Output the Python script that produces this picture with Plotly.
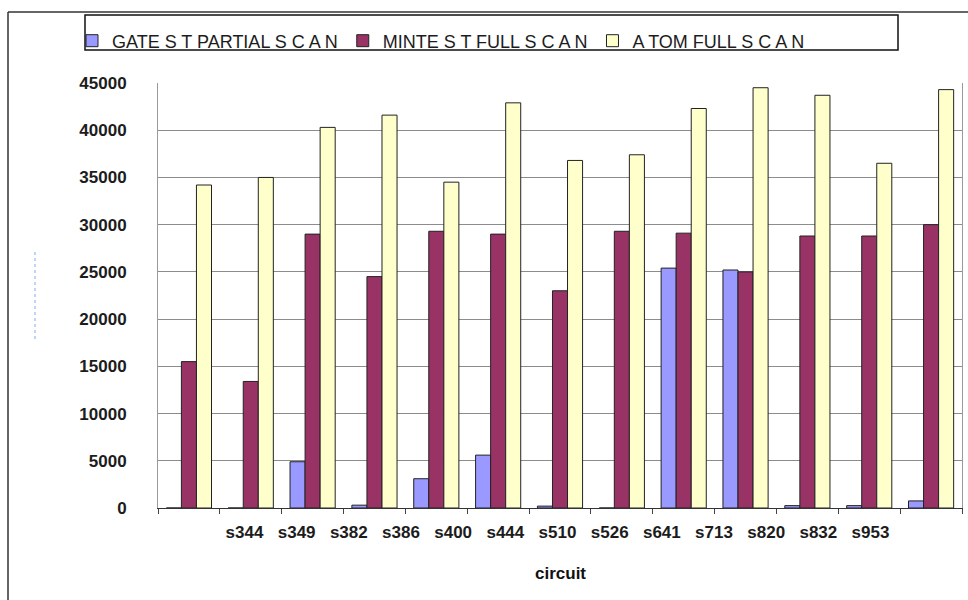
import plotly.graph_objects as go

# Benchmark circuits and test-set sizes for the three tools
circuits = ["s344", "s349", "s382", "s386", "s400", "s444", "s510",
            "s526", "s641", "s713", "s820", "s832", "s953"]
gatest_partial = [0, 0, 4900, 300, 3100, 5600, 200, 0, 25400, 25200, 250, 250, 750]
mintest_full = [15500, 13400, 29000, 24500, 29300, 29000, 23000, 29300, 29100, 25000, 28800, 28800, 30000]
atom_full = [34200, 35000, 40300, 41600, 34500, 42900, 36800, 37400, 42300, 44500, 43700, 36500, 44300]

series_names = ["GATE S T PARTIAL S C A N", "MINTE S T FULL S C A N", "A TOM FULL S C A N"]
series_colors = ["#9999FF", "#993366", "#FFFFCC"]
y_ticks = list(range(0, 45001, 5000))

W, H = 968, 600
L, R, T, B = 158, 6, 83, 92
PW, PH = W - L - R, H - T - B


def px_x(x):
    return (x - L) / PW


def px_y(y):
    return (H - B - y) / PH


FONT = "Liberation Sans, Arial, sans-serif"
TXT = "#1c1c1c"

fig = go.Figure()
for name, vals, col in zip(series_names, [gatest_partial, mintest_full, atom_full], series_colors):
    fig.add_trace(go.Bar(
        x=circuits, y=vals, name=name,
        marker=dict(color=col, line=dict(color="#222222", width=1)),
    ))

# label axis for the circuit names (carries no visible marks)
fig.add_trace(go.Scatter(
    x=list(range(len(circuits))), y=[None] * len(circuits),
    xaxis="x2", yaxis="y2", mode="markers", showlegend=False, hoverinfo="skip",
))

fig.update_layout(
    width=W, height=H,
    margin=dict(l=L, r=R, t=T, b=B),
    paper_bgcolor="white", plot_bgcolor="rgba(0,0,0,0)",
    barmode="group", bargap=0.27, bargroupgap=0,
    font=dict(family=FONT, color=TXT),
    showlegend=True,
    legend=dict(
        orientation="h", x=px_x(72), y=px_y(41), xanchor="left", yanchor="middle",
        bgcolor="rgba(0,0,0,0)", borderwidth=0,
        font=dict(family=FONT, size=18, color=TXT),
        itemwidth=30, tracegroupgap=0,
    ),
    xaxis=dict(
        type="category", showticklabels=False,
        showline=True, linecolor="#333333", linewidth=1,
        ticks="outside", tickson="boundaries", ticklen=5, tickcolor="#444444",
        showgrid=False, zeroline=False,
    ),
    xaxis2=dict(
        domain=[px_x(218.4), px_x(896.6)], anchor="y2",
        range=[-0.5, len(circuits) - 0.5],
        tickmode="array", tickvals=list(range(len(circuits))),
        ticktext=[f"<b>{c}</b>" for c in circuits],
        showgrid=False, zeroline=False, showline=False, ticks="",
        ticklabelstandoff=12,
        tickfont=dict(family=FONT, size=17, color=TXT),
    ),
    yaxis2=dict(
        domain=[0, 1], anchor="x2", range=[0, 1],
        showgrid=False, zeroline=False, showline=False,
        showticklabels=False, ticks="",
    ),
    yaxis=dict(
        range=[0, 45000], tickmode="array", tickvals=y_ticks,
        ticktext=[f"<b>{v}</b>" for v in y_ticks],
        showgrid=True, gridcolor="#8c8c8c", gridwidth=1,
        showline=True, mirror=True, linecolor="#9a9a9a", linewidth=1,
        zeroline=False, ticks="", ticklabelstandoff=27,
        tickfont=dict(family=FONT, size=17, color=TXT),
    ),
    annotations=[
        dict(text="<b>circuit</b>", xref="paper", yref="paper",
             x=px_x(560), y=px_y(573), xanchor="center", yanchor="middle",
             showarrow=False, font=dict(family=FONT, size=17, color="#111111")),
    ],
    shapes=[
        # outer frame (top and left edges)
        dict(type="line", xref="paper", yref="paper", x0=px_x(8), x1=px_x(968),
             y0=px_y(12), y1=px_y(12), line=dict(color="#333333", width=1.5)),
        dict(type="line", xref="paper", yref="paper", x0=px_x(8), x1=px_x(8),
             y0=px_y(12), y1=px_y(600), line=dict(color="#333333", width=1.5)),
        # legend box
        dict(type="rect", xref="paper", yref="paper", x0=px_x(85), x1=px_x(898),
             y0=px_y(50), y1=px_y(15), line=dict(color="#111111", width=1.5)),
        # dotted guide on the left
        dict(type="line", xref="paper", yref="paper", x0=px_x(35), x1=px_x(35),
             y0=px_y(252), y1=px_y(340), line=dict(color="#7fa8f0", width=1, dash="dot")),
    ],
)

fig.write_html("out.html")
